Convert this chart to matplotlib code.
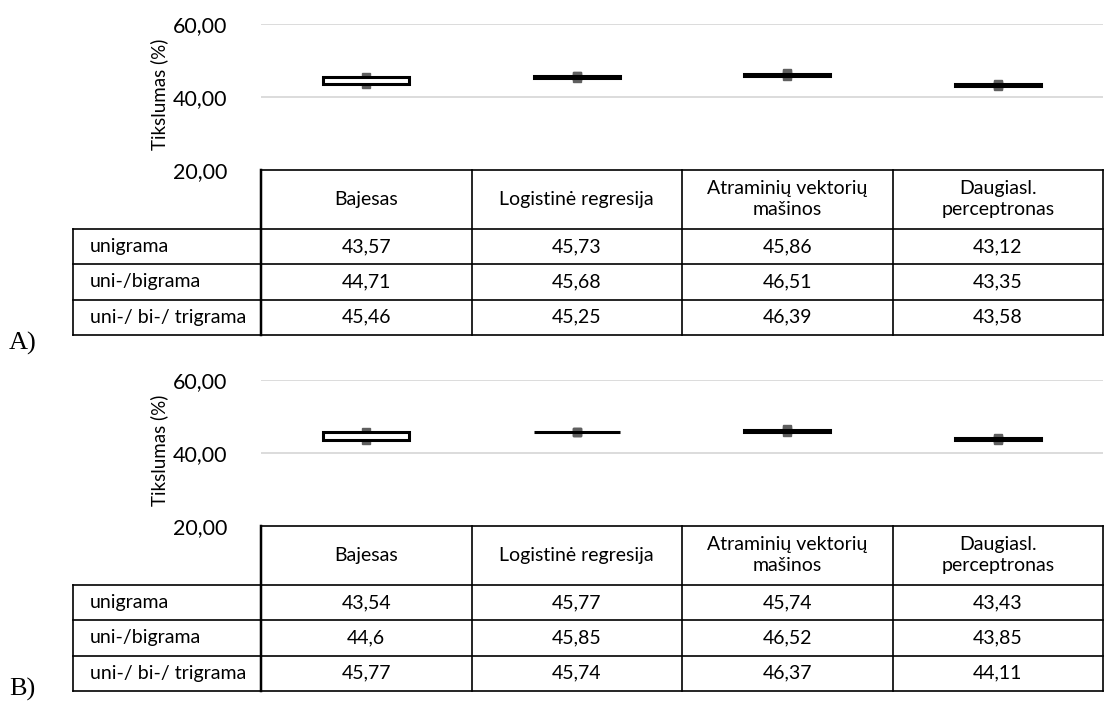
import numpy as np
import matplotlib
matplotlib.use("Agg")
import matplotlib.pyplot as plt

# data
categories = ["Bajesas", "Logistinė regresija", "Atraminių vektorių\nmašinos", "Daugiasl.\nperceptronas"]
series_names = ["unigrama", "uni-/bigrama", "uni-/ bi-/ trigrama"]

a_uni = [43.57, 45.73, 45.86, 43.12]
a_bi = [44.71, 45.68, 46.51, 43.35]
a_tri = [45.46, 45.25, 46.39, 43.58]

b_uni = [43.54, 45.77, 45.74, 43.43]
b_bi = [44.6, 45.85, 46.52, 43.85]
b_tri = [45.77, 45.74, 46.37, 44.11]

y_ticks = [20, 40, 60]
y_tick_labels = ["20,00", "40,00", "60,00"]
y_label = "Tikslumas (%)"

plt.rcParams['font.family'] = ['Lato', 'DejaVu Sans']

W, H = 1104, 704
fig = plt.figure(figsize=(W / 100, H / 100), dpi=100)


def px_axes(left, top, right, bottom):
    return fig.add_axes([left / W, 1 - bottom / H, (right - left) / W, (bottom - top) / H])


def fmt(v):
    return ("%g" % v).replace(".", ",")


def draw_panel(top, series, tag, tag_y):
    x_left, x_right, lab_left = 261, 1103, 73
    chart_bottom = top + 146
    table_bottom = chart_bottom + 165

    ax = px_axes(x_left, top, x_right, chart_bottom)
    ax.set_xlim(0, 4)
    ax.set_ylim(20, 60)
    for s in ax.spines.values():
        s.set_visible(False)
    ax.set_xticks([])
    ax.set_yticks(y_ticks)
    ax.set_yticklabels(y_tick_labels, fontsize=15.5)
    ax.tick_params(axis='y', length=0, pad=24)
    for t in y_ticks[1:]:
        ax.axhline(t, color='#d9d9d9', lw=1.3, zorder=0)
    ax.set_ylabel(y_label, fontsize=13.5)
    ax.yaxis.set_label_coords(-0.11, 0.52)

    arr = np.array(series)
    x = np.arange(4) + 0.5
    lo, hi = arr.min(axis=0), arr.max(axis=0)
    first, last = arr[0], arr[-1]
    ax.vlines(x, lo, hi, color='#595959', lw=1.5, zorder=1)
    for row in arr:
        ax.plot(x, row, ls='none', marker='s', ms=6, color='#5f5f5f', mec='#5f5f5f', zorder=1)
    colors = ['white' if l >= f else 'black' for f, l in zip(first, last)]
    ax.bar(x, np.abs(last - first), bottom=np.minimum(first, last), width=0.41,
           color=colors, edgecolor='black', linewidth=2.2, zorder=2)

    # data table
    tb = px_axes(lab_left, chart_bottom, x_right, table_bottom)
    lab_w = (x_left - lab_left) / ((x_right - x_left) / 4)
    head = 1.66
    nrow = len(series)
    tb.set_xlim(-lab_w, 4)
    tb.set_ylim(head + nrow, 0)
    tb.axis('off')
    lw = 1.2
    tb.plot([0, 4], [0, 0], color='black', lw=lw, clip_on=False)
    for r in range(nrow + 1):
        tb.plot([-lab_w, 4], [head + r, head + r], color='black', lw=lw, clip_on=False)
    for c in range(5):
        tb.plot([c, c], [0, head + nrow], color='black', lw=lw + (0.6 if c == 0 else 0), clip_on=False)
    tb.plot([-lab_w, -lab_w], [head, head + nrow], color='black', lw=lw, clip_on=False)
    for c, name in enumerate(categories):
        tb.text(c + 0.5, head / 2, name, ha='center', va='center', fontsize=14, linespacing=1.3)
    for r, (name, row) in enumerate(zip(series_names, series)):
        yc = head + r + 0.5
        tb.text(-lab_w + 0.08, yc, name, ha='left', va='center', fontsize=14)
        for c, v in enumerate(row):
            tb.text(c + 0.5, yc, fmt(v), ha='center', va='center', fontsize=14)

    fig.text(9 / W, 1 - tag_y / H, tag, family='Liberation Serif', fontsize=19,
             ha='left', va='center')


draw_panel(24, [a_uni, a_bi, a_tri], "A)", 343)
draw_panel(380, [b_uni, b_bi, b_tri], "B)", 689)

fig.savefig("out.png", dpi=100)
